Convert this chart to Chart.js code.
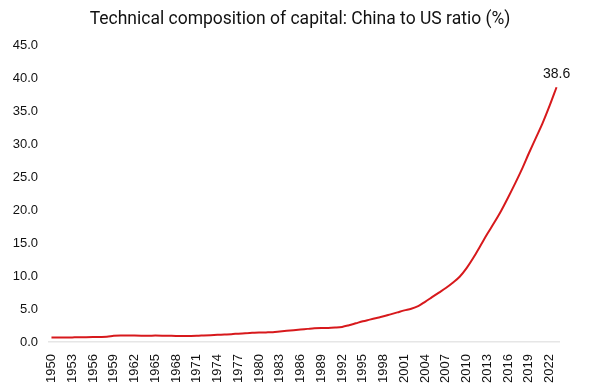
<!DOCTYPE html>
<html lang="en">

<head>
    <meta charset="UTF-8">
    <meta name="viewport" content="width=device-width, initial-scale=1.0">
    <title>Technical composition of capital</title>
    <style>
        html, body { margin: 0; padding: 0; background: #fff; }
        #wrap { width: 600px; height: 391px; }
    </style>
</head>

<body>
    <div id="wrap"><canvas id="myChart"></canvas></div>

    <script src="https://cdn.jsdelivr.net/npm/chart.js"></script>
    <script>
        // data
        const years = [];
        for (let y = 1950; y <= 2023; y++) years.push(String(y));

        const ratio = [
            0.70, 0.70, 0.70, 0.71, 0.72, 0.74, 0.76, 0.78, 0.80, 0.95,   // 1950-59
            1.00, 1.00, 0.98, 0.97, 0.97, 0.98, 0.97, 0.95, 0.93, 0.92,   // 1960-69
            0.93, 0.95, 1.00, 1.05, 1.10, 1.15, 1.20, 1.28, 1.35, 1.40,   // 1970-79
            1.45, 1.47, 1.50, 1.60, 1.70, 1.80, 1.90, 2.00, 2.10, 2.15,   // 1980-89
            2.15, 2.20, 2.30, 2.55, 2.85, 3.15, 3.40, 3.65, 3.90, 4.20,   // 1990-99
            4.50, 4.80, 5.05, 5.45, 6.10, 6.80, 7.50, 8.20, 9.00, 9.90,   // 2000-09
            11.2, 12.8, 14.6, 16.4, 18.1, 19.9, 21.9, 24.0, 26.2, 28.6,   // 2010-19
            30.9, 33.2, 35.8, 38.6                                        // 2020-23
        ];

        const yTicks = [0, 5, 10, 15, 20, 25, 30, 35, 40, 45];
        const endLabel = '38.6';
        const titleText = 'Technical composition of capital: China to US ratio (%)';

        // title centred on the whole canvas + label above last point
        const textPlugin = {
            id: 'extraText',
            afterDatasetsDraw(chart) {
                const ctx = chart.ctx;
                ctx.save();
                ctx.font = '17.5px Roboto, sans-serif';
                ctx.fillStyle = '#111';
                ctx.textAlign = 'center';
                ctx.textBaseline = 'alphabetic';
                ctx.fillText(titleText, chart.width / 2, 24);

                const meta = chart.getDatasetMeta(0);
                const pt = meta.data[meta.data.length - 1];
                ctx.font = '14px "Liberation Sans", Arial, sans-serif';
                ctx.textBaseline = 'bottom';
                ctx.fillText(endLabel, pt.x, pt.y - 6);
                ctx.restore();
            }
        };

        const data = {
            labels: years,
            datasets: [{
                label: 'China to US ratio',
                data: ratio,
                borderColor: '#d7191c',
                borderWidth: 2,
                pointRadius: 0,
                cubicInterpolationMode: 'monotone',
                fill: false
            }]
        };

        const config = {
            type: 'line',
            data,
            options: {
                responsive: true,
                maintainAspectRatio: false,
                animation: false,
                layout: { padding: { left: 0, right: 40, top: 45, bottom: 4 } },
                plugins: {
                    legend: { display: false },
                    tooltip: { enabled: false },
                    title: { display: false }
                },
                scales: {
                    x: {
                        offset: true,
                        grid: { display: false },
                        border: { display: false },
                        ticks: {
                            autoSkip: false,
                            maxRotation: 90,
                            minRotation: 90,
                            padding: 4,
                            color: '#111',
                            font: { family: '"Liberation Sans", Arial, sans-serif', size: 13 },
                            callback: function (val, i) {
                                return i % 3 === 0 ? years[i] : '';
                            }
                        }
                    },
                    y: {
                        min: 0,
                        max: 45,
                        afterBuildTicks: function (axis) {
                            axis.ticks = yTicks.map(v => ({ value: v }));
                        },
                        afterFit: function (axis) { axis.width = 48; },
                        grid: {
                            drawTicks: false,
                            color: ctx => ctx.tick && ctx.tick.value === 0 ? '#e6e6e6' : 'rgba(0,0,0,0)',
                            lineWidth: 1.5
                        },
                        border: { display: false },
                        ticks: {
                            padding: 10,
                            color: '#111',
                            font: { family: '"Liberation Sans", Arial, sans-serif', size: 13 },
                            callback: v => Number(v).toFixed(1)
                        }
                    }
                }
            },
            plugins: [textPlugin]
        };

        const myChart = new Chart(
            document.getElementById('myChart'),
            config
        );
    </script>
</body>

</html>
